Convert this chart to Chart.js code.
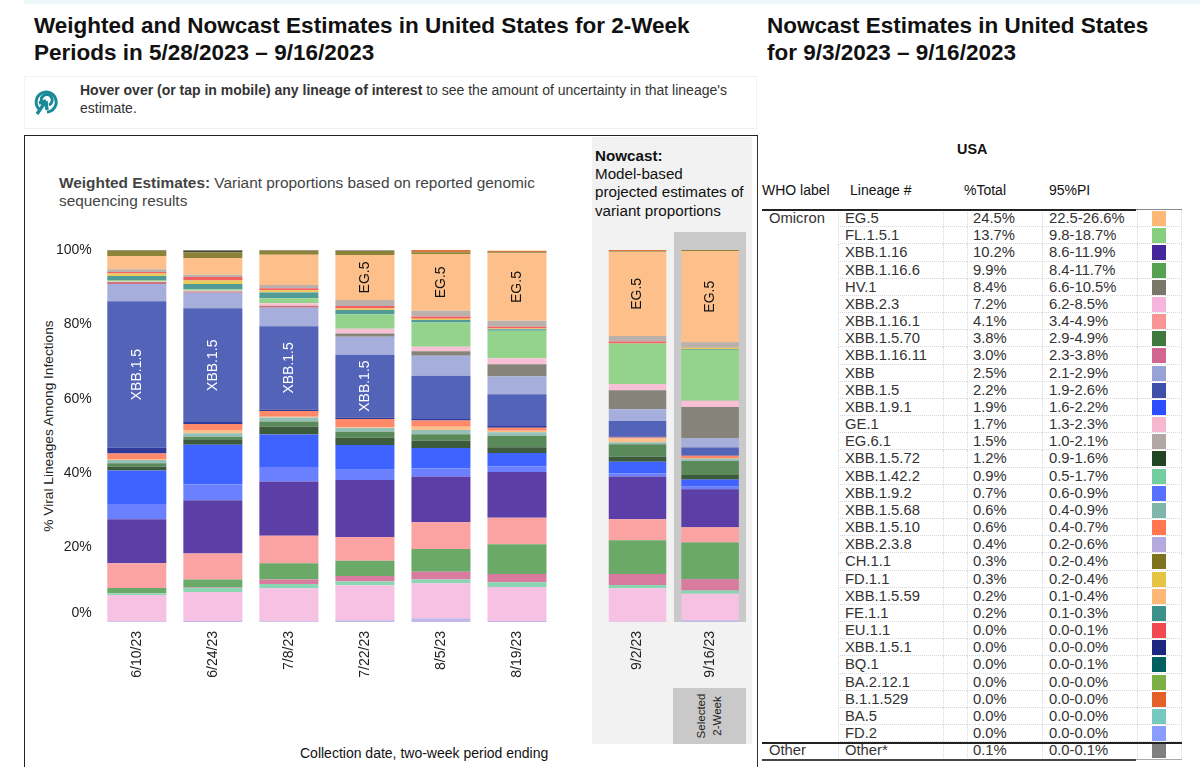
<!DOCTYPE html>
<html lang="en">
<head>
  <meta charset="UTF-8">
  <title>Weighted and Nowcast Estimates in United States</title>
  <script src="https://cdn.jsdelivr.net/npm/chart.js"></script>
  <style>
    html, body { margin: 0; background: #fff; }
    body { position: relative; width: 1200px; height: 767px; overflow: hidden; font-family: "Liberation Sans", Arial, sans-serif; color: #000; }
    .abs { position: absolute; }
    h1 { position: absolute; margin: 0; font-size: 22.5px; line-height: 27px; font-weight: bold; color: #111; white-space: nowrap; }
    canvas { position: absolute; }
    #tableGrid { position: absolute; left: 762px; top: 210px; display: grid;
      grid-template-columns: 76px 105px 24px 75px 95px 45px; grid-auto-rows: 17.18px; }
    #tableGrid div { box-sizing: border-box; border-left: 1px dotted #d8d8d8; border-bottom: 1px dotted #d8d8d8;
      font-size: 14.8px; line-height: 17px; color: #333; white-space: nowrap; position: relative; }
    #tableGrid div.noline { border-bottom: none; }
    #tableGrid div.last { border-right: 1px dotted #d8d8d8; }
    #tableGrid i { position: absolute; left: 14px; top: 1px; width: 14px; height: 15px; }
  </style>
</head>
<body>
  <div class="abs" style="left:24px;top:0;width:1176px;height:4px;background:#eef8f8"></div>
  <h1 style="left:34px;top:12px">Weighted and Nowcast Estimates in United States for 2-Week<br>Periods in 5/28/2023 – 9/16/2023</h1>
  <h1 style="left:767px;top:12px">Nowcast Estimates in United States<br>for 9/3/2023 – 9/16/2023</h1>

  <div class="abs" style="left:24px;top:76px;width:731px;height:51px;border:1px solid #f2f2f2"></div>
  <svg class="abs" style="left:33px;top:88px" width="26" height="28" viewBox="0 0 26 28" fill="none" stroke="#1b8a98" stroke-width="3">
    <path d="M6 21 A10 10 0 1 1 14 24"/>
    <path d="M10 16 A5.5 5.5 0 1 1 16 17"/>
    <path d="M13 13 L4 26 M13 13 L6 15 M13 13 L14 22" stroke-width="3.4"/>
  </svg>
  <div class="abs" style="left:80px;top:82px;width:660px;font-size:14px;line-height:17.5px;color:#333"><b>Hover over (or tap in mobile) any lineage of interest</b> to see the amount of uncertainty in that lineage's<br>estimate.</div>

  <div class="abs" style="left:24px;top:135px;width:732px;height:640px;border-top:1.5px solid #222;border-left:1.5px solid #222;border-right:1.5px solid #333"></div>
  <div class="abs" style="left:592px;top:137px;width:160px;height:607px;background:#f2f2f2"></div>
  <div class="abs" style="left:674px;top:232px;width:72px;height:390px;background:#c9c9c9"></div>
  <div class="abs" style="left:673px;top:688px;width:73px;height:56px;background:#c9c9c9;display:flex;align-items:center;justify-content:center">
    <div style="transform:rotate(-90deg);font-size:11.5px;line-height:16px;text-align:center;white-space:nowrap;color:#222">Selected<br>2-Week</div>
  </div>

  <div class="abs" style="left:59px;top:174px;width:520px;font-size:15.4px;line-height:18px;color:#444"><b>Weighted Estimates:</b> Variant proportions based on reported genomic<br>sequencing results</div>
  <div class="abs" style="left:595px;top:147px;width:156px;font-size:15.2px;line-height:18.2px;color:#111;white-space:nowrap"><b>Nowcast:</b><br>Model-based<br>projected estimates of<br>variant proportions</div>
  <div class="abs" style="left:300px;top:745px;font-size:14px;line-height:16px;color:#111">Collection date, two-week period ending</div>
  <div class="abs" style="left:49px;top:426px;font-size:13.7px;line-height:16px;color:#222;white-space:nowrap;transform:translate(-50%,-50%) rotate(-90deg)">% Viral Lineages Among Infections</div>

  <canvas id="weightedChart" style="left:0;top:240px" width="560" height="450"></canvas>
  <canvas id="nowcastChart" style="left:590px;top:240px" width="160" height="450"></canvas>

  <div class="abs" style="left:957px;top:141px;font-size:14.4px;font-weight:bold;color:#111">USA</div>
  <div class="abs" style="left:762px;top:182px;font-size:14px;color:#111">WHO label</div>
  <div class="abs" style="left:850px;top:182px;font-size:14px;color:#111">Lineage #</div>
  <div class="abs" style="left:964px;top:182px;font-size:14px;color:#111">%Total</div>
  <div class="abs" style="left:1049px;top:182px;font-size:14px;color:#111">95%PI</div>
  <div id="tableGrid"></div>
  <div class="abs" style="left:762px;top:209px;width:374px;height:1.5px;background:#222"></div>
  <div class="abs" style="left:1136px;top:209px;width:46px;height:1px;background:#888"></div>
  <div class="abs" style="left:762px;top:742px;width:420px;height:1.5px;background:#222"></div>
  <div class="abs" style="left:762px;top:759px;width:374px;height:1.5px;background:#444"></div>
  <div class="abs" style="left:1136px;top:759px;width:46px;height:1px;background:#aaa"></div>

  <script>
    const weightedDates = ['6/10/23', '6/24/23', '7/8/23', '7/22/23', '8/5/23', '8/19/23'];
    const nowcastDates = ['9/2/23', '9/16/23'];
    const tickValues = [0, 20, 40, 60, 80, 100];

    // share per period, 6 weighted periods then 2 nowcast periods
    const xbb238 = [0.2, 0.3, 0.2, 0.5, 1.0, 0.3, 0.1, 0.4];
    const xbb23 = [7.06, 7.76, 8.85, 9.36, 9.4, 9.1, 8.95, 7.2];
    const xbb1422 = [0.45, 1.17, 1.15, 1.0, 1.0, 1.26, 0.9, 0.9];
    const xbb11611 = [0.1, 0.2, 1.2, 1.5, 2.1, 2.24, 2.95, 3.0];
    const xbb1166 = [1.34, 2.0, 4.4, 4.1, 6.1, 8.0, 9.1, 9.9];
    const xbb1161 = [6.63, 7.0, 7.4, 6.4, 7.2, 7.1, 5.6, 4.1];
    const xbb116 = [11.83, 14.3, 14.6, 15.3, 12.3, 12.3, 11.5, 10.2];
    const xbb192 = [4.1, 4.2, 3.9, 2.8, 2.2, 1.6, 0.9, 0.7];
    const xbb191 = [9.0, 10.7, 8.7, 6.6, 5.5, 3.5, 3.1, 1.9];
    const xbb1572 = [1.05, 1.3, 2.1, 2.0, 1.9, 1.6, 1.3, 1.2];
    const xbb1570 = [0.9, 0.9, 1.4, 1.6, 1.8, 3.1, 3.4, 3.8];
    const xbb1568 = [0.9, 0.9, 1.1, 1.0, 1.1, 0.9, 0.5, 0.6];
    const xbb1559 = [0.25, 0.9, 0.2, 0.2, 0.9, 0.4, 1.0, 0.2];
    const xbb1510 = [1.5, 1.6, 1.5, 2.2, 1.7, 0.8, 0.3, 0.6];
    const xbb151 = [1.5, 0.5, 0.4, 0.4, 0.4, 0.5, 0.2, 0];
    const xbb15 = [39.4, 30.6, 22.4, 16.9, 11.6, 8.5, 4.2, 2.2];
    const xbb = [4.66, 4.2, 5.0, 4.8, 5.4, 4.8, 3.2, 2.5];
    const unlisted = [0.54, 0.3, 0.5, 0, 0, 0, 0, 0];
    const hv1 = [0, 0, 0, 0.9, 1.2, 3.3, 5.1, 8.4];
    const ge1 = [0.1, 0.2, 0.7, 1.3, 1.2, 1.6, 1.7, 1.7];
    const fl151 = [0.4, 0.4, 1.3, 3.9, 6.5, 7.4, 10.7, 13.7];
    const fe11 = [1.1, 1.4, 1.6, 1.1, 0.7, 0.4, 0.1, 0.2];
    const fd11 = [0.7, 1.0, 0.6, 0.4, 0.3, 0.2, 0.1, 0.3];
    const eu11 = [0.4, 0.9, 0.5, 0.7, 0.6, 0.5, 0.5, 0];
    const eg61 = [0.7, 0.6, 0.9, 1.6, 1.6, 1.6, 1.5, 1.5];
    const eg5 = [3.6, 4.5, 8.1, 12.1, 15.2, 18.1, 22.65, 24.5];
    const ch11 = [1.4, 1.5, 1.1, 1.1, 0.5, 0.3, 0.2, 0.3];
    const bq1 = [0, 0.5, 0, 0, 0, 0, 0, 0];
    const b11529 = [0, 0, 0, 0, 0.6, 0.4, 0.25, 0];
    const other = [0.2, 0.2, 0.2, 0.2, 0, 0, 0, 0.1];

    // bottom to top
    const stack = [
      ['XBB.2.3.8', xbb238, '#c2b8e8'], ['XBB.2.3', xbb23, '#f6c1e3'], ['XBB.1.42.2', xbb1422, '#8ad6b3'],
      ['XBB.1.16.11', xbb11611, '#d97b9e'], ['XBB.1.16.6', xbb1166, '#6aa968'], ['XBB.1.16.1', xbb1161, '#fba3a3'],
      ['XBB.1.16', xbb116, '#5b3fa6'], ['XBB.1.9.2', xbb192, '#6a80ff'], ['XBB.1.9.1', xbb191, '#3f63ff'],
      ['XBB.1.5.72', xbb1572, '#3c5a3c'], ['XBB.1.5.70', xbb1570, '#5a8a5a'], ['XBB.1.5.68', xbb1568, '#94c0b7'],
      ['XBB.1.5.59', xbb1559, '#fdc08b'], ['XBB.1.5.10', xbb1510, '#ff8a6a'], ['XBB.1.5.1', xbb151, '#303a9b'],
      ['XBB.1.5', xbb15, '#5263b8'], ['XBB', xbb, '#a6aedb'], ['Unlisted', unlisted, '#c9737f'],
      ['HV.1', hv1, '#86847a'], ['GE.1', ge1, '#f8c0d5'], ['FL.1.5.1', fl151, '#93d38c'],
      ['FE.1.1', fe11, '#509b97'], ['FD.1.1', fd11, '#e8cc5a'], ['EU.1.1', eu11, '#f46060'],
      ['EG.6.1', eg61, '#bcb0ac'], ['EG.5', eg5, '#fdc08b'], ['CH.1.1', ch11, '#8c8238'],
      ['BQ.1', bq1, '#4a4a2a'], ['B.1.1.529', b11529, '#d9773f'], ['Other', other, '#7f7f7f']
    ];

    const tableLineages = ['EG.5', 'FL.1.5.1', 'XBB.1.16', 'XBB.1.16.6', 'HV.1', 'XBB.2.3', 'XBB.1.16.1', 'XBB.1.5.70', 'XBB.1.16.11', 'XBB', 'XBB.1.5', 'XBB.1.9.1', 'GE.1', 'EG.6.1', 'XBB.1.5.72', 'XBB.1.42.2', 'XBB.1.9.2', 'XBB.1.5.68', 'XBB.1.5.10', 'XBB.2.3.8', 'CH.1.1', 'FD.1.1', 'XBB.1.5.59', 'FE.1.1', 'EU.1.1', 'XBB.1.5.1', 'BQ.1', 'BA.2.12.1', 'B.1.1.529', 'BA.5', 'FD.2', 'Other*'];
    const tableTotals = ['24.5%', '13.7%', '10.2%', '9.9%', '8.4%', '7.2%', '4.1%', '3.8%', '3.0%', '2.5%', '2.2%', '1.9%', '1.7%', '1.5%', '1.2%', '0.9%', '0.7%', '0.6%', '0.6%', '0.4%', '0.3%', '0.3%', '0.2%', '0.2%', '0.0%', '0.0%', '0.0%', '0.0%', '0.0%', '0.0%', '0.0%', '0.1%'];
    const tableRanges = ['22.5-26.6%', '9.8-18.7%', '8.6-11.9%', '8.4-11.7%', '6.6-10.5%', '6.2-8.5%', '3.4-4.9%', '2.9-4.9%', '2.3-3.8%', '2.1-2.9%', '1.9-2.6%', '1.6-2.2%', '1.3-2.3%', '1.0-2.1%', '0.9-1.6%', '0.5-1.7%', '0.6-0.9%', '0.4-0.9%', '0.4-0.7%', '0.2-0.6%', '0.2-0.4%', '0.2-0.4%', '0.1-0.4%', '0.1-0.3%', '0.0-0.1%', '0.0-0.0%', '0.0-0.1%', '0.0-0.0%', '0.0-0.0%', '0.0-0.0%', '0.0-0.0%', '0.0-0.1%'];
    const tableSwatches = ['#fdb876', '#86cf7f', '#43279b', '#56a052', '#787668', '#f6b5dc', '#fa9595', '#3e7a3e', '#d26690', '#99a2d6', '#3f50ab', '#2c4dff', '#f7b7ce', '#b3a7a5', '#234420', '#72cd9f', '#5670ff', '#80b5ab', '#ff7650', '#b4aae0', '#7f7320', '#e6c443', '#fdb876', '#3c918c', '#f04a50', '#1c2680', '#005f5f', '#7db044', '#e36029', '#77c9c0', '#8a9dff', '#7f7f7f'];

    // lineage names written on the big segments: lineage -> bar indexes
    const weightedTags = { 'XBB.1.5': [0, 1, 2, 3], 'EG.5': [3, 4, 5] };
    const nowcastTags = { 'EG.5': [0, 1] };

    function tagPlugin(tags) {
      return {
        id: 'segmentTags',
        afterDatasetsDraw(chart) {
          const ctx = chart.ctx;
          chart.data.datasets.forEach((ds, i) => {
            (tags[ds.label] || []).forEach(idx => {
              const el = chart.getDatasetMeta(i).data[idx];
              ctx.save();
              ctx.translate(el.x, (el.y + el.base) / 2);
              ctx.rotate(-Math.PI / 2);
              ctx.font = '14px "Liberation Sans"';
              ctx.textAlign = 'center';
              ctx.textBaseline = 'middle';
              ctx.fillStyle = ds.label === 'XBB.1.5' ? '#fff' : '#111';
              ctx.fillText(ds.label, 0, 0);
              ctx.restore();
            });
          });
        }
      };
    }

    // the 0% label sits a little above its tick in the original
    const zeroLabel = {
      id: 'zeroLabel',
      afterDraw(chart) {
        const y = chart.scales.y;
        const ctx = chart.ctx;
        ctx.save();
        ctx.font = '14px "Liberation Sans"';
        ctx.fillStyle = '#222';
        ctx.textAlign = 'right';
        ctx.textBaseline = 'middle';
        ctx.fillText('0%', y.right - 7, y.getPixelForValue(0) - 9);
        ctx.restore();
      }
    };

    function makeChart(id, labels, from, to, opts) {
      return new Chart(document.getElementById(id), {
        type: 'bar',
        data: {
          labels,
          datasets: stack.map(s => ({ label: s[0], data: s[1].slice(from, to), backgroundColor: s[2], borderWidth: 0 }))
        },
        options: {
          responsive: false,
          animation: false,
          maintainAspectRatio: false,
          datasets: { bar: { categoryPercentage: 1, barPercentage: opts.barPercentage } },
          layout: { padding: opts.padding },
          plugins: { legend: { display: false }, tooltip: { enabled: false } },
          scales: {
            x: {
              stacked: true,
              grid: { display: false },
              border: { display: false },
              afterFit(s) { s.height = 68; },
              ticks: { color: '#222', font: { size: 14, family: 'Liberation Sans' }, minRotation: 90, maxRotation: 90, padding: 1 }
            },
            y: opts.yAxis
          }
        },
        plugins: opts.plugins
      });
    }

    makeChart('weightedChart', weightedDates, 0, 6, {
      barPercentage: 59 / 76,
      padding: { left: 40, right: 5, top: 10, bottom: 0 },
      plugins: [tagPlugin(weightedTags), zeroLabel],
      yAxis: {
        stacked: true,
        min: 0,
        max: 100,
        grid: { display: false, drawTicks: false },
        border: { display: false },
        afterFit(s) { s.width = 58.8; s.paddingTop = 0; s.paddingBottom = 0; },
        afterBuildTicks(s) { s.ticks = tickValues.map(v => ({ value: v })); },
        ticks: {
          color: '#222',
          font: { size: 14, family: 'Liberation Sans' },
          padding: 7,
          callback: v => (v === 0 ? '' : v + '%')
        }
      }
    });

    makeChart('nowcastChart', nowcastDates, 6, 8, {
      barPercentage: 57.5 / 72.6,
      padding: { left: 11.2, right: 3.6, top: 10, bottom: 0 },
      plugins: [tagPlugin(nowcastTags)],
      yAxis: { stacked: true, min: 0, max: 100, display: false }
    });

    // lineage table on the right
    const grid = document.getElementById('tableGrid');
    tableLineages.forEach((name, i) => {
      const isOther = name === 'Other*';
      const who = i === 0 ? 'Omicron' : (isOther ? 'Other' : '');
      const cells = [who, name, '', tableTotals[i], tableRanges[i], ''];
      cells.forEach((text, c) => {
        const cell = document.createElement('div');
        cell.textContent = text;
        if (c === 0) { cell.style.paddingLeft = '7px'; cell.style.borderLeft = 'none'; cell.classList.add('noline'); }
        else if (c === 1 || c === 4) cell.style.paddingLeft = '6px';
        else if (c === 3) cell.style.paddingLeft = '5px';
        if (c === 5) {
          cell.classList.add('last');
          const sw = document.createElement('i');
          sw.style.background = tableSwatches[i];
          cell.appendChild(sw);
        }
        grid.appendChild(cell);
      });
    });
  </script>
</body>
</html>
